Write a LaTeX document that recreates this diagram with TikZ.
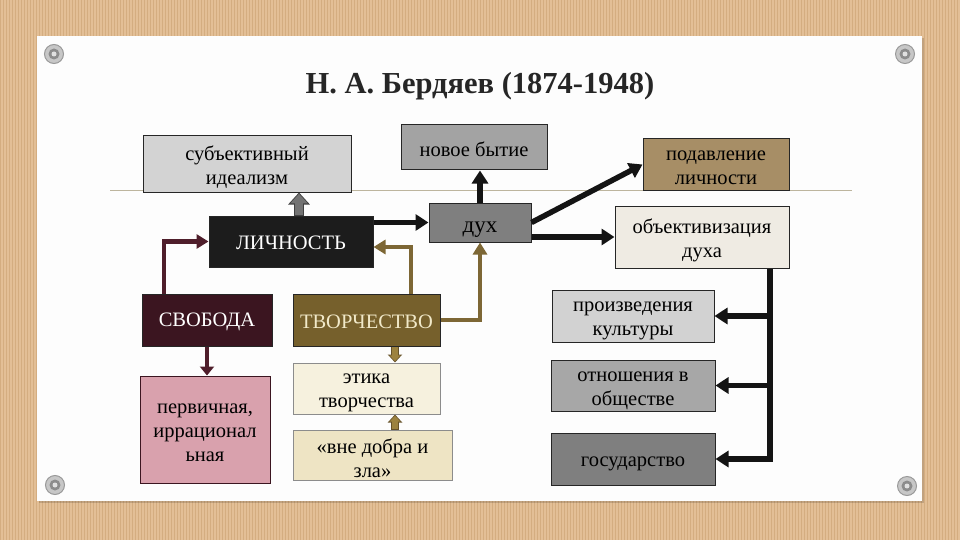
\documentclass[tikz,border=0pt]{standalone}
\usepackage{fontspec}
\setmainfont{Liberation Serif}
\usetikzlibrary{arrows.meta}
\definecolor{wood}{HTML}{E3BF96}
\definecolor{woodline}{HTML}{D4AD80}
\definecolor{cardc}{HTML}{FDFDFD}
\definecolor{cSubj}{HTML}{D3D3D3}
\definecolor{cNovoe}{HTML}{A3A3A3}
\definecolor{cPodav}{HTML}{A78E66}
\definecolor{cLichn}{HTML}{1C1C1C}
\definecolor{cDukh}{HTML}{7F7F7F}
\definecolor{cObj}{HTML}{EFEBE3}
\definecolor{cSvob}{HTML}{3B1520}
\definecolor{cTvor}{HTML}{76602C}
\definecolor{cProizv}{HTML}{D2D2D2}
\definecolor{cOtn}{HTML}{A7A7A7}
\definecolor{cGos}{HTML}{7F7F7F}
\definecolor{cPerv}{HTML}{D9A1AD}
\definecolor{cEtika}{HTML}{F6F1DE}
\definecolor{cVne}{HTML}{EEE4C4}
\definecolor{maroon}{HTML}{4F1E2B}
\definecolor{olive}{HTML}{7D6735}
\definecolor{oliveD}{HTML}{65512A}
\definecolor{oliveL}{HTML}{9C823F}
\definecolor{cream}{HTML}{F1E9C9}
\definecolor{hline}{HTML}{BDB59E}
\begin{document}
\begin{tikzpicture}[x=1pt,y=-1pt,
  box/.style={draw=black!85, line width=1pt, inner sep=0pt},
  txt/.style={inner sep=0pt, align=center, font=\fontsize{20.5}{24}\selectfont, text=black},
  blk/.style={draw=black!92, line width=5.5pt, -{Triangle[length=13pt,width=16pt]}},
  mar/.style={draw=maroon, line width=4.5pt, -{Triangle[length=12pt,width=14pt]}},
  mars/.style={draw=maroon, line width=4.5pt, -{Triangle[length=9pt,width=14pt]}},
  oli/.style={draw=olive, line width=4.5pt, -{Triangle[length=12pt,width=14pt]}},
  olisO/.style={draw=oliveD, line width=8pt, -{Triangle[length=8pt,width=14pt]}},
  olisI/.style={draw=oliveL, line width=5.6pt, shorten >=1.2pt, -{Triangle[length=6pt,width=10.5pt]}},
  gryO/.style={draw=black!75, line width=10pt, -{Triangle[length=12pt,width=21pt]}},
  gryI/.style={draw=black!55, line width=7.6pt, shorten >=1.4pt, -{Triangle[length=9.5pt,width=17pt]}},
  screw/.style={circle, draw=black!40, fill=black!22, minimum size=19pt, inner sep=0pt, line width=1pt}
]
\useasboundingbox (0,0) rectangle (960,540);
% wood background
\fill[wood] (0,0) rectangle (960,540);
\foreach \x in {0,3,...,960} \draw[woodline, line width=0.7pt] (\x,0) -- (\x,540);
% card
\fill[black, opacity=0.15] (39,38) rectangle (924,503);
\fill[cardc] (37,36) rectangle (922,501);
% screws
\foreach \n/\p in {s1/{(54,54)}, s2/{(905,54)}, s3/{(55,485)}, s4/{(907,486)}} {
  \node[screw] (\n) at \p {};
  \fill[black!45] (\n) circle (5.5pt);
  \fill[black!12] (\n) circle (2.5pt);
}
% title
\node[anchor=base, font=\fontsize{30.5}{34}\selectfont\bfseries, text=black!85] (title) at (480,94) {Н. А. Бердяев (1874-1948)};
% thin line
\draw[hline, line width=0.8pt] (110,190.5) -- (852,190.5);
% boxes
\node[box, fill=cSubj, minimum width=208pt, minimum height=56pt] (subj) at (247,164) {};
\node[box, fill=cNovoe, minimum width=146pt, minimum height=45pt] (novoe) at (474,147.5) {};
\node[box, fill=cPodav, minimum width=146pt, minimum height=51pt] (podav) at (716,164.5) {};
\node[box, fill=cLichn, minimum width=164pt, minimum height=51pt] (lichn) at (291,241.5) {};
\node[box, fill=cDukh, minimum width=102pt, minimum height=39pt] (dukh) at (480,222.5) {};
\node[box, fill=cObj, minimum width=174pt, minimum height=62pt] (obj) at (702,237) {};
\node[box, fill=cSvob, minimum width=130pt, minimum height=52pt] (svob) at (207,320) {};
\node[box, fill=cTvor, minimum width=147pt, minimum height=52pt] (tvor) at (366.5,320) {};
\node[box, fill=cProizv, minimum width=162pt, minimum height=52pt] (proizv) at (633,316) {};
\node[box, fill=cOtn, minimum width=164pt, minimum height=51pt] (otn) at (633,385.5) {};
\node[box, fill=cGos, minimum width=164pt, minimum height=52pt] (gos) at (633,459) {};
\node[box, draw=cSvob, fill=cPerv, minimum width=130pt, minimum height=107pt] (perv) at (205,429.5) {};
\node[box, draw=black!45, fill=cEtika, minimum width=147pt, minimum height=51pt] (etika) at (366.5,388.5) {};
\node[box, draw=black!45, fill=cVne, minimum width=159pt, minimum height=50pt] (vne) at (372.5,455) {};
% texts
\path (subj) ++(0,3) node[txt] (subj-t) {субъективный\\идеализм};
\path (novoe) ++(0,1.5) node[txt] (novoe-t) {новое бытие};
\path (podav) ++(0,3.5) node[txt] (podav-t) {подавление\\личности};
\path (lichn) ++(0,1) node[txt, text=white] (lichn-t) {ЛИЧНОСТЬ};
\path (dukh) ++(0,7) node[txt, font=\fontsize{23}{26}\selectfont] (dukh-t) {дух};
\path (obj) ++(0,3) node[txt] (obj-t) {объективизация\\духа};
\path (svob) ++(0,1.5) node[txt, text=white] (svob-t) {СВОБОДА};
\path (tvor) ++(0,1.5) node[txt, text=cream] (tvor-t) {ТВОРЧЕСТВО};
\path (proizv) ++(0,4.5) node[txt] (proizv-t) {произведения\\культуры};
\path (otn) ++(0,5) node[txt] (otn-t) {отношения в\\обществе};
\path (gos) ++(0,4.5) node[txt] (gos-t) {государство};
\path (perv) ++(0,3) node[txt] (perv-t) {первичная,\\иррационал\\ьная};
\path (etika) ++(0,4) node[txt] (etika-t) {этика\\творчества};
\path (vne) ++(0,3) node[txt] (vne-t) {«вне добра и\\зла»};
% connectors
\draw[gryO] ([xshift=8pt]lichn.north) -- ([xshift=8pt]lichn.north |- subj.south);
\draw[gryI] ([xshift=8pt,yshift=0.5pt]lichn.north) -- ([xshift=8pt]lichn.north |- subj.south);
\draw[blk] (lichn.east |- dukh) -- (dukh.west);
\draw[blk] (dukh.north) -- (dukh.north |- novoe.south);
\draw[blk] (dukh.east) -- (podav.west);
\draw[blk] (dukh.east |- obj.west) -- (obj.west);
\draw[mar] ([xshift=-43pt]svob.north) |- (lichn.west);
\draw[oli] ([xshift=44.5pt]tvor.north) |- ([yshift=-5.5pt]lichn.east);
\draw[oli] (tvor.east) -| (dukh.south);
\draw[mars] (svob.south) -- (svob.south |- perv.north);
\draw[olisO] ([xshift=28.5pt]tvor.south) -- ([xshift=28.5pt]tvor.south |- etika.north);
\draw[olisI] ([xshift=28.5pt,yshift=-0.5pt]tvor.south) -- ([xshift=28.5pt]tvor.south |- etika.north);
\draw[olisO] ([xshift=22.5pt]vne.north) -- ([xshift=22.5pt]vne.north |- etika.south);
\draw[olisI] ([xshift=22.5pt,yshift=0.5pt]vne.north) -- ([xshift=22.5pt]vne.north |- etika.south);
\coordinate (bus) at ([xshift=68pt]obj.south);
\draw[blk, line join=miter] (bus) -- (bus |- gos.east) -- (gos.east);
\draw[blk] (bus |- proizv.east) -- (proizv.east);
\draw[blk] (bus |- otn.east) -- (otn.east);
\end{tikzpicture}
\end{document}
